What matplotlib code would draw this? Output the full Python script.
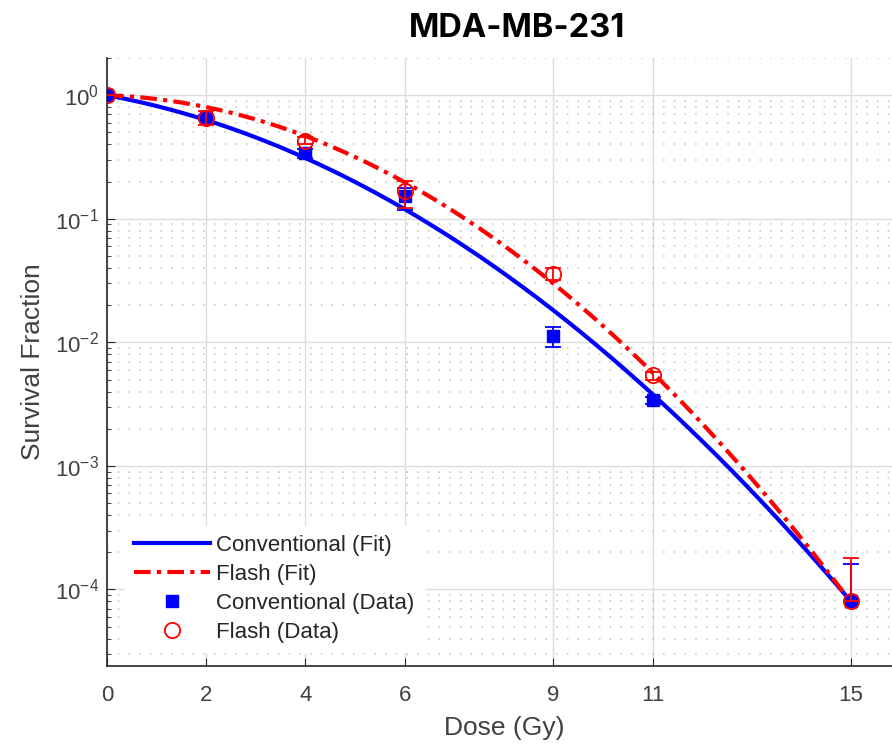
import numpy as np
import matplotlib
matplotlib.use('Agg')
import matplotlib.pyplot as plt
from matplotlib.lines import Line2D

# measured survival fractions
dose = [0, 2, 4, 6, 9, 11, 15]
conv_sf = [1.0, 0.66, 0.34, 0.153, 0.0113, 0.0034, 8.0e-5]
conv_err_lo = [0.0, 0.03, 0.03, 0.035, 0.0021, 0.0002, 0.0]
conv_err_hi = [0.0, 0.03, 0.03, 0.025, 0.0021, 0.0002, 8.0e-5]
flash_sf = [1.0, 0.66, 0.43, 0.168, 0.036, 0.0054, 8.0e-5]
flash_err_lo = [0.0, 0.085, 0.03, 0.045, 0.004, 0.0004, 0.0]
flash_err_hi = [0.0, 0.085, 0.03, 0.035, 0.004, 0.0004, 1.0e-4]

# linear-quadratic fit parameters (alpha, beta)
conv_ab = (0.170, 0.0306)
flash_ab = (0.030, 0.040)

D = np.linspace(0, 15, 300)
conv_fit = np.exp(-conv_ab[0] * D - conv_ab[1] * D**2)
flash_fit = np.exp(-flash_ab[0] * D - flash_ab[1] * D**2)

plt.rcParams['font.family'] = ['Liberation Sans', 'DejaVu Sans']
plt.rcParams['axes.unicode_minus'] = False

BLUE = '#0000ff'
RED = '#ff0000'
dashdot = (0, (4, 1.5, 1, 1.5))

fig = plt.figure(figsize=(8.92, 7.45), dpi=100)
ax = fig.add_axes([0.12, 0.106, 0.8897, 0.816])

ax.plot(D, conv_fit, color=BLUE, lw=3, zorder=3)
ax.plot(D, flash_fit, color=RED, lw=3, ls=dashdot, zorder=3)
ax.errorbar(dose, conv_sf, yerr=[conv_err_lo, conv_err_hi], fmt='s', color=BLUE,
            ms=9, capsize=6, elinewidth=1.3, capthick=1.3, zorder=4)
ax.errorbar(dose, flash_sf, yerr=[flash_err_lo, flash_err_hi], fmt='o', color=RED,
            mfc='none', ms=11, mew=1.3, capsize=6, elinewidth=1.3, capthick=1.3,
            zorder=5)

ax.set_yscale('log')
ax.set_ylim(2.4e-5, 2)
ax.set_xlim(0, 16)
ax.set_xticks(dose)
ax.set_xticklabels([str(d) for d in dose])
ax.set_yticks([1e-4, 1e-3, 1e-2, 1e-1, 1e0])

ax.grid(True, which='major', color='#dcdcdc', lw=1)
ax.grid(True, which='minor', axis='y', color='#c0c0c0', lw=1.1, ls=(0, (1, 6)))
ax.xaxis.grid(False, which='minor')

for s in ['top', 'right']:
    ax.spines[s].set_visible(False)
for s in ['left', 'bottom']:
    ax.spines[s].set_color('#262626')
    ax.spines[s].set_linewidth(1.2)

ax.tick_params(which='both', direction='in', colors='#262626', labelcolor='#404040',
               labelsize=16)
ax.tick_params(which='major', length=6)
ax.tick_params(which='minor', length=3)
ax.tick_params(axis='x', pad=14)
ax.tick_params(axis='y', pad=6)

ax.set_xlabel('Dose (Gy)', fontsize=19, color='#404040')
ax.set_ylabel('Survival Fraction', fontsize=19, color='#404040')
ax.xaxis.set_label_coords(0.5, -0.083)
ax.yaxis.set_label_coords(-0.078, 0.5)

handles = [
    Line2D([], [], color=BLUE, lw=3),
    Line2D([], [], color=RED, lw=3, ls=dashdot),
    Line2D([], [], color=BLUE, marker='s', ls='none', ms=9),
    Line2D([], [], color=RED, marker='o', mfc='none', ls='none', ms=11, mew=1.3),
]
labels = ['Conventional (Fit)', 'Flash (Fit)', 'Conventional (Data)', 'Flash (Data)']
leg = ax.legend(handles, labels, loc='lower left', bbox_to_anchor=(0.009, 0.005),
                fontsize=16, handlelength=3.4, handletextpad=0.3, frameon=True,
                fancybox=False, framealpha=1, edgecolor='white', borderpad=0.4,
                labelspacing=0.36)
for t in leg.get_texts():
    t.set_color('#262626')

fig.text(0.58, 0.962, 'MDA-MB-231', fontsize=23.5, fontweight='bold',
         family=['Inter', 'DejaVu Sans'], ha='center', va='center')

fig.savefig('out.png', dpi=100)
